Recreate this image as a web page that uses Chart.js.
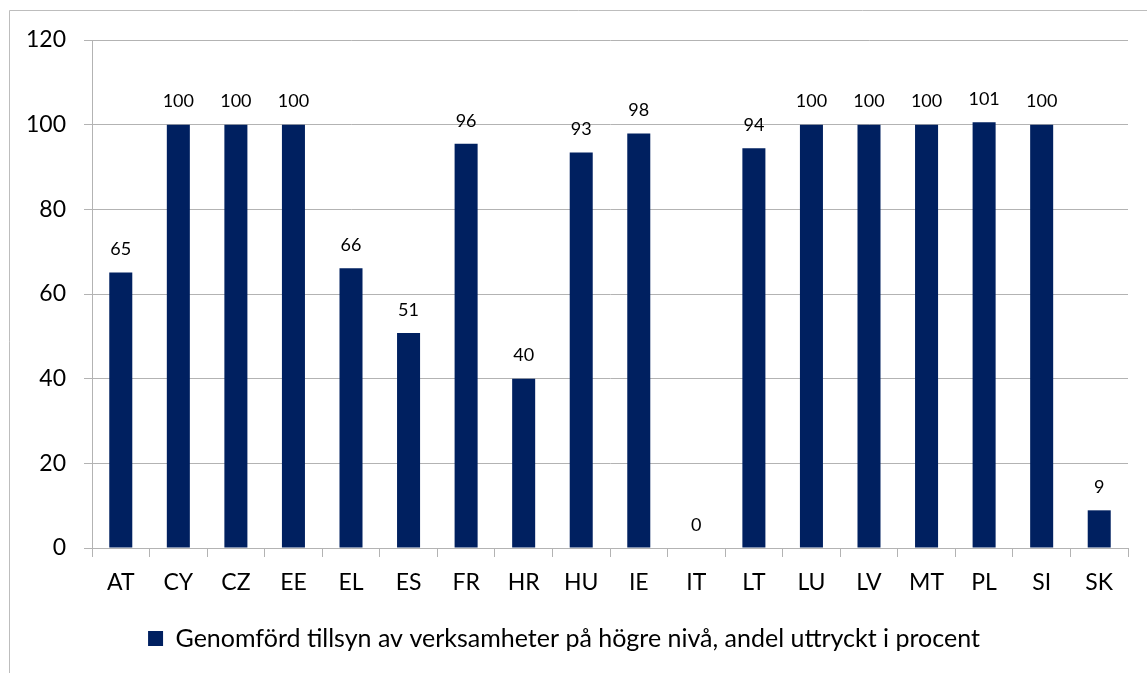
<!DOCTYPE html>
<html>
<head>
<meta charset="utf-8">
<script src="https://cdn.jsdelivr.net/npm/chart.js@4.4.0/dist/chart.umd.min.js"></script>
<style>
html,body{margin:0;padding:0;background:#fff}
#wrap{width:1147px;height:673px;position:relative}
</style>
</head>
<body>
<div id="wrap"><canvas id="c"></canvas></div>
<script>
const countries=['AT','CY','CZ','EE','EL','ES','FR','HR','HU','IE','IT','LT','LU','LV','MT','PL','SI','SK'];
const shares=[65.1,100,100,100,66.1,50.8,95.5,40,93.4,97.9,0,94.4,100,100,100,100.6,100,8.9];
const seriesLabel='Genomförd tillsyn av verksamheter på högre nivå, andel uttryckt i procent';
const yMin=0,yMax=120,yStep=20;

const FONT='Lato, "Open Sans", sans-serif';
const BAR='#002060';
const GRID='#b3b3b3';

// outer frame like the Excel chart border
const frame={id:'frame',beforeDraw(chart){
  const c=chart.ctx;c.save();
  c.fillStyle='#fff';c.fillRect(0,0,chart.width,chart.height);
  c.strokeStyle='#bdbdbd';c.lineWidth=1;
  c.beginPath();c.moveTo(9.5,chart.height);c.lineTo(9.5,10.5);c.lineTo(chart.width,10.5);c.stroke();
  c.restore();
}};

// value labels above bars
const valueLabels={id:'valueLabels',afterDatasetsDraw(chart){
  const c=chart.ctx;const meta=chart.getDatasetMeta(0);
  c.save();c.font='18px '+FONT;c.fillStyle='#000';c.textAlign='center';c.textBaseline='middle';
  meta.data.forEach((bar,i)=>{c.fillText(String(Math.round(shares[i])),bar.x,bar.y-23);});
  c.restore();
}};

new Chart(document.getElementById('c'),{
  type:'bar',
  data:{labels:countries,datasets:[{label:seriesLabel,data:shares,backgroundColor:BAR,borderWidth:0,barPercentage:0.8,categoryPercentage:0.5}]},
  options:{
    responsive:true,maintainAspectRatio:false,animation:false,
    layout:{padding:{top:40,right:19,left:0,bottom:12}},
    plugins:{
      legend:{position:'bottom',labels:{color:'#000',font:{family:FONT,size:25},boxWidth:15,boxHeight:15,padding:10}},
      tooltip:{enabled:false}
    },
    scales:{
      x:{
        grid:{drawOnChartArea:false,drawTicks:true,tickLength:9,color:GRID,offset:true},
        border:{color:GRID},
        ticks:{color:'#000',font:{family:FONT,size:23},padding:12},
        afterFit(s){s.height=68;}
      },
      y:{
        min:yMin,max:yMax,
        ticks:{stepSize:yStep,color:'#000',font:{family:FONT,size:23},padding:18},
        grid:{color:GRID,tickLength:8},
        border:{color:GRID},
        afterFit(s){s.width=92;}
      }
    }
  },
  plugins:[frame,valueLabels]
});
</script>
</body>
</html>
